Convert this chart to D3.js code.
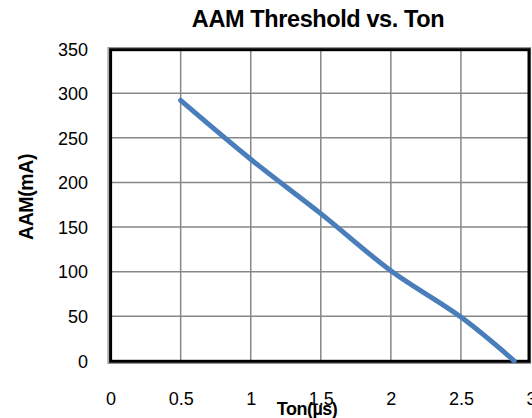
<!DOCTYPE html>
<html><head><meta charset="utf-8">
<script src="https://cdn.jsdelivr.net/npm/d3@7"></script>
<style>html,body{margin:0;padding:0;background:#fff;overflow:hidden}</style>
</head><body>
<svg id="c" width="532" height="418"></svg>
<script>
const tonValues = [0.5, 1, 1.5, 2, 2.5, 2.88];
const aamValues = [292, 226, 165, 101, 49, 0];
const xTicks = [0, 0.5, 1, 1.5, 2, 2.5, 3];
const yTicks = [0, 50, 100, 150, 200, 250, 300, 350];
const titleText = "AAM Threshold vs. Ton";
const xTitle = "Ton(µs)";
const yTitle = "AAM(mA)";

const svg = d3.select("#c");
const font = "'Liberation Sans', Arial, sans-serif";
const x = d3.scaleLinear().domain([0, 3]).range([110.6, 531]);
const y = d3.scaleLinear().domain([0, 350]).range([360.8, 48.7]);

// gridlines
svg.append("g").selectAll("line.v").data(xTicks.filter(d => d > 0 && d < 3)).join("line")
  .attr("x1", d => x(d)).attr("x2", d => x(d)).attr("y1", y(350)).attr("y2", y(0))
  .attr("stroke", "#878787").attr("stroke-width", 1.5);
svg.append("g").selectAll("line.h").data(yTicks.filter(d => d > 0 && d < 350)).join("line")
  .attr("x1", x(0)).attr("x2", 529).attr("y1", d => y(d)).attr("y2", d => y(d))
  .attr("stroke", "#878787").attr("stroke-width", 1.5);

// frame
svg.append("rect").attr("x", x(0) - 2.5).attr("y", y(350) - 1).attr("width", 529 - x(0) + 4).attr("height", y(0) - y(350) + 3.5)
  .attr("fill", "none").attr("stroke", "#8a8a8a").attr("stroke-width", 1.2);
svg.append("rect").attr("x", x(0)).attr("y", y(350) + 1).attr("width", 529 - x(0)).attr("height", y(0) - y(350) - 0.5)
  .attr("fill", "none").attr("stroke", "#000").attr("stroke-width", 3);

// data line
const line = d3.line().x((d, i) => x(tonValues[i])).y(d => y(d)).curve(d3.curveCatmullRom.alpha(0.5));
svg.append("path").datum(aamValues).attr("d", line)
  .attr("fill", "none").attr("stroke", "#4a7ebb").attr("stroke-width", 5).attr("stroke-linecap", "round");

// y tick labels
const yAxis = d3.axisLeft(y).tickValues(yTicks).tickSize(0).tickPadding(0);
const ya = svg.append("g").attr("transform", "translate(88,0)").call(yAxis);
ya.select(".domain").remove();
ya.selectAll("text").attr("font-family", font).attr("font-size", 18).attr("fill", "#000").attr("dy", "0.35em");

// x tick labels
const xAxis = d3.axisBottom(x).tickValues(xTicks).tickSize(0).tickPadding(0).tickFormat(d3.format("~g"));
const xa = svg.append("g").attr("transform", "translate(0,392)").call(xAxis);
xa.select(".domain").remove();
xa.selectAll("text").attr("font-family", font).attr("font-size", 18).attr("fill", "#000").attr("dy", "0");
xa.selectAll("text").attr("y", 12.5);

// titles
svg.append("text").attr("x", 318).attr("y", 27).attr("text-anchor", "middle")
  .attr("font-family", font).attr("font-weight", "bold").attr("font-size", 23.5).attr("letter-spacing", "-0.4px").text(titleText);
svg.append("text").attr("x", 307).attr("y", 415).attr("text-anchor", "middle")
  .attr("font-family", font).attr("font-weight", "bold").attr("font-size", 18).attr("letter-spacing", "-0.5px").text(xTitle);
svg.append("text").attr("transform", "translate(33,197) rotate(-90)").attr("text-anchor", "middle")
  .attr("font-family", font).attr("font-weight", "bold").attr("font-size", 19.5).attr("letter-spacing", "-0.4px").text(yTitle);
</script>
</body></html>
